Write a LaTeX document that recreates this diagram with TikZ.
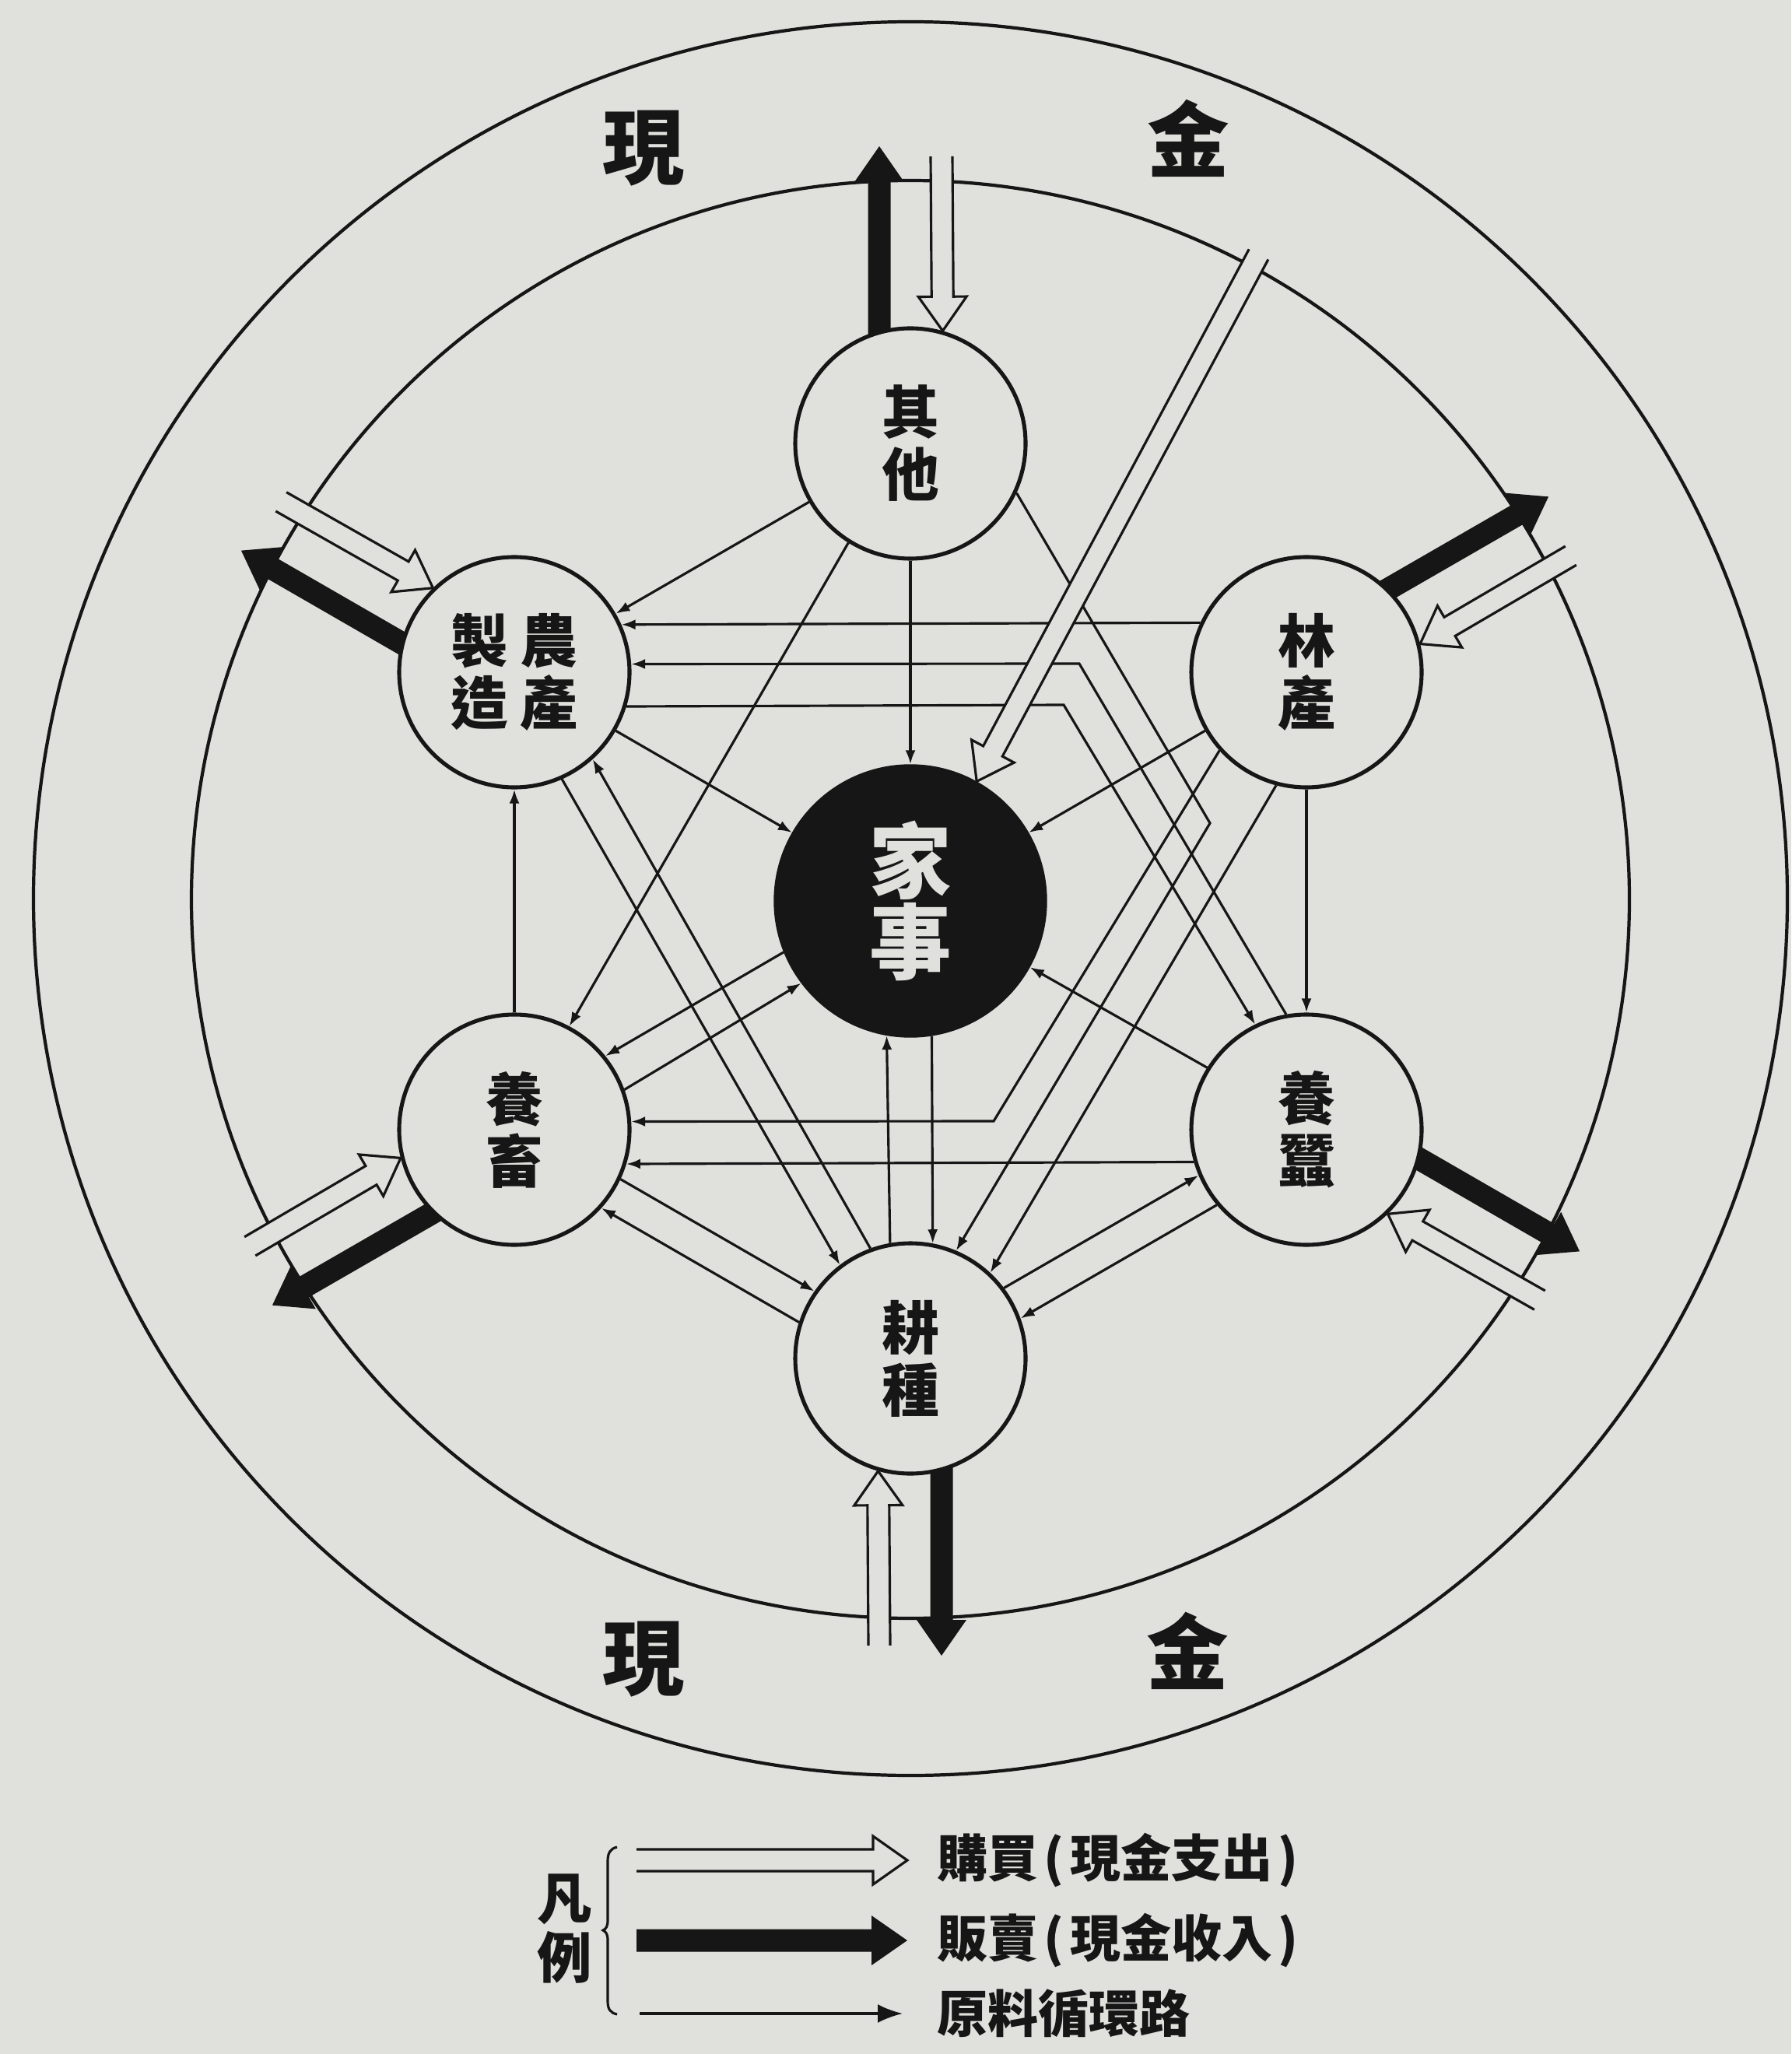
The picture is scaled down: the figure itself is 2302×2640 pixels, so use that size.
\documentclass[tikz,border=0pt]{standalone}
\usepackage{fontspec}
\newfontfamily\cjk{Noto Sans CJK TC}
\usetikzlibrary{calc,arrows.meta}
\definecolor{paper}{RGB}{224,224,221}
\definecolor{ink}{RGB}{22,22,22}
\tikzset{
 ring/.style={draw=ink, line width=1.2pt},
 station/.style={circle, draw=ink, line width=1.45pt, fill=paper, minimum size=29.6mm, inner sep=0pt, align=center, text=ink, font=\cjk\bfseries\fontsize{21pt}{8mm}\selectfont},
 homenode/.style={circle, fill=ink, draw=ink, minimum size=35mm, inner sep=0pt, align=center, text=paper, font=\cjk\bfseries\fontsize{30pt}{10mm}\selectfont},
 flow/.style={draw=ink, line width=0.9pt, -{Latex[length=1.8mm,width=1.3mm]}},
 legflow/.style={draw=ink, line width=0.9pt, -{Latex[length=3.2mm,width=2.4mm]}},
 cashlbl/.style={text=ink, font=\cjk\bfseries\fontsize{30pt}{30pt}\selectfont, inner sep=0pt},
 legtext/.style={text=ink, font=\cjk\bfseries\fontsize{18.5pt}{20pt}\selectfont, inner sep=0pt, anchor=west},
 legmark/.style={text=ink, font=\cjk\bfseries\fontsize{20pt}{7.6mm}\selectfont, inner sep=0pt, align=center},
}
\newcommand{\pa}[1]{\makebox[0.62em][c]{#1}}
\newcommand{\solidarrow}[2]{%
 \coordinate (sab) at ($(#2)!4.6mm!(#1)$);
 \fill[ink] ($(#1)!1.45mm!90:(#2)$) -- ($(sab)!1.45mm!90:(#2)$) -- ($(sab)!3.2mm!90:(#2)$) -- (#2) -- ($(sab)!3.2mm!-90:(#2)$) -- ($(sab)!1.45mm!-90:(#2)$) -- ($(#1)!1.45mm!-90:(#2)$) -- cycle;}
\newcommand{\openarrow}[2]{%
 \coordinate (oab) at ($(#2)!4.4mm!(#1)$);
 \fill[paper] ($(#1)!1.4mm!90:(#2)$) -- ($(oab)!1.4mm!90:(#2)$) -- ($(oab)!3.1mm!90:(#2)$) -- (#2) -- ($(oab)!3.1mm!-90:(#2)$) -- ($(oab)!1.4mm!-90:(#2)$) -- ($(#1)!1.4mm!-90:(#2)$) -- cycle;
 \draw[ink, line width=0.9pt] ($(#1)!1.4mm!90:(#2)$) -- ($(oab)!1.4mm!90:(#2)$) -- ($(oab)!3.1mm!90:(#2)$) -- (#2) -- ($(oab)!3.1mm!-90:(#2)$) -- ($(oab)!1.4mm!-90:(#2)$) -- ($(#1)!1.4mm!-90:(#2)$);}
\begin{document}
\begin{tikzpicture}[x=0.1mm,y=-0.1mm]
\useasboundingbox (0,0) rectangle (2302,2640);
\fill[paper] (0,0) rectangle (2302,2640);
\coordinate (O) at (1170,1158);
\draw[ring] (1170,1155) circle[radius=112.7mm];
\draw[ring] (1170,1156) circle[radius=92.4mm];
\coordinate (Qc) at (1170,570);
\coordinate (Lc) at (1679,864);
\coordinate (Sc) at (1679,1452);
\coordinate (Kc) at (1170,1746);
\coordinate (Yc) at (661,1452);
\coordinate (Nc) at (661,864);
% sales (black arrows)
\foreach \n/\t in {Q/90,L/30,S/330,K/270,Y/210,N/150}{
 \pgfmathsetmacro\bs{\t+90}
 \coordinate (\n-bt) at ($(O)+(\t:97mm)+(\bs:4mm)$);
 \coordinate (\n-bs) at ($(\n c)+(\t:8mm)+(\bs:4mm)$);
 \solidarrow{\n-bs}{\n-bt}
}
% nodes
\node[station] (Q) at (Qc) {其\\他};
\node[station] (L) at (Lc) {林\\產};
\node[station] (S) at (Sc) {養\\蠶};
\node[station] (K) at (Kc) {耕\\種};
\node[station] (Y) at (Yc) {養\\畜};
\node[station] (N) at (Nc) {製\hspace{1.6mm}農\\造\hspace{1.6mm}產};
\node[homenode] (H) at (O) {家\\事};
% raw material circulation
\draw[flow] (Q.210) -- (N.30);
\draw[flow] (Q.270) -- (H.90);
\draw[flow] (Q.238) -- (Y.62);
\draw[flow] (Q.335.6) -- (1555,1058) -- (K.67);
\draw[flow] (L.155.65) -- (N.24.35);
\draw[flow] (L.210) -- (H.30);
\draw[flow] (L.270) -- (S.90);
\draw[flow] (L.222) -- (1277,1441) -- (Y.4.3);
\draw[flow] (L.255.5) -- (K.47);
\draw[flow] (N.330) -- (H.150);
\draw[flow] (N.343.5) -- (1367,906) -- (S.116);
\draw[flow] (S.100) -- (1387,853) -- (N.4.26);
\draw[flow] (N.294) -- (K.127);
\draw[flow] (K.110) -- (N.312);
\draw[flow] (Y.90) -- (N.270);
\draw[flow] (H.202.1) -- (Y.39.3);
\draw[flow] (Y.20.7) -- (H.217.9);
\draw[flow] (Y.335) -- (K.145);
\draw[flow] (K.162) -- (Y.318);
\draw[flow] (S.196.1) -- (Y.343.9);
\draw[flow] (S.148) -- (H.331);
\draw[flow] (K.100.9) -- (H.260.8);
\draw[flow] (H.279.2) -- (K.79.1);
\draw[flow] (K.37) -- (S.203);
\draw[flow] (S.220) -- (K.20);
% purchases (hollow arrows)
\foreach \n/\t in {Q/90,L/30,S/330,K/270,Y/210,N/150}{
 \pgfmathsetmacro\hs{\t-90}
 \pgfmathsetmacro\ta{mod(\t-15.7+720,360)}
 \coordinate (\n-ht) at ($(O)+(\t:95.7mm)+(\hs:4mm)$);
 \openarrow{\n-ht}{\n.\ta}
}
\coordinate (D-t) at ($(O)+(61.7:94.4mm)$);
\openarrow{D-t}{H.61.7}
% cash labels
\node[cashlbl] (c1) at (827,191) {現};
\node[cashlbl] (c2) at (1527,178) {金};
\node[cashlbl] (c3) at (827,2133) {現};
\node[cashlbl] (c4) at (1526,2122) {金};
% legend
\node[legmark] (lg) at (726,2479) {凡\\例};
\draw[ink, line width=0.9pt] (793,2374) .. controls (784,2376) and (781,2382) .. (781,2392) -- (781,2468) .. controls (781,2476) and (779,2479) .. (775,2481) .. controls (779,2483) and (781,2486) .. (781,2494) -- (781,2572) .. controls (781,2582) and (784,2587) .. (793,2589);
\coordinate (la1) at (818,2391); \coordinate (lb1) at (1166,2391);
\openarrow{la1}{lb1}
\coordinate (la2) at (818,2494); \coordinate (lb2) at (1166,2494);
\solidarrow{la2}{lb2}
\coordinate (la3) at (822,2588); \coordinate (lb3) at (1160,2588);
\draw[legflow] (la3) -- (lb3);
\node[legtext] (t1) at (1204,2391) {購買\pa{(}現金支出\pa{)}};
\node[legtext] (t2) at (1204,2494) {販賣\pa{(}現金收入\pa{)}};
\node[legtext] (t3) at (1204,2588) {原料循環路};
\end{tikzpicture}
\end{document}
